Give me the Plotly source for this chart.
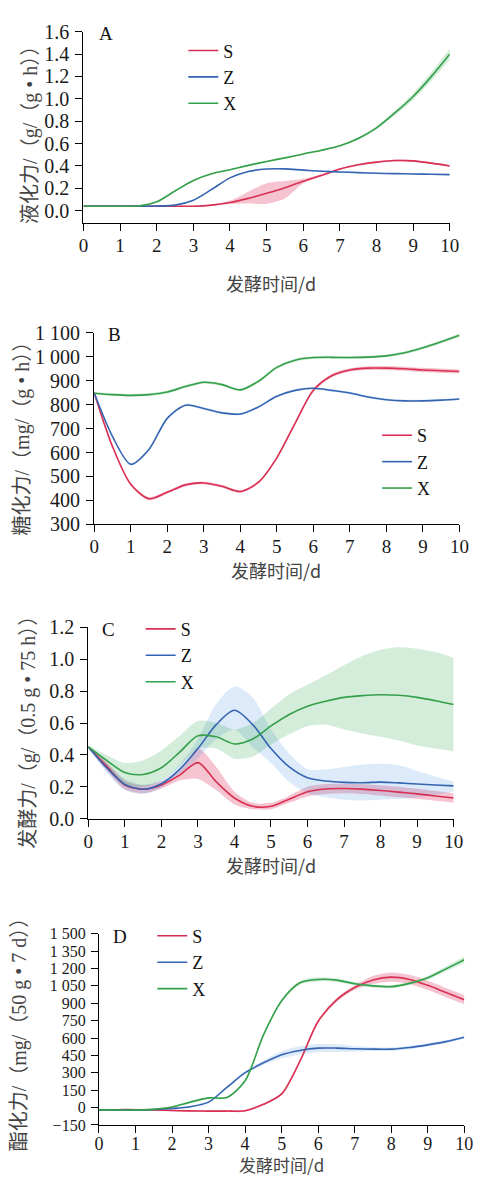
import plotly.graph_objects as go

# Fermentation time (days) shared by every panel
days = [0, 0.5, 1, 1.5, 2, 2.5, 3, 3.5, 4, 4.5, 5, 5.5, 6, 6.5, 7, 7.5, 8, 8.5, 9, 9.5, 10]

# A: liquefying power, g/(g·h)
A_S = [0.04, 0.04, 0.04, 0.04, 0.04, 0.04, 0.04, 0.05, 0.073, 0.11, 0.155, 0.205, 0.264, 0.316, 0.372, 0.41, 0.434, 0.448, 0.445, 0.425, 0.40]
A_S_lo = [0.035, 0.035, 0.035, 0.035, 0.035, 0.035, 0.035, 0.045, 0.06, 0.065, 0.062, 0.11, 0.245, 0.305, 0.364, 0.402, 0.426, 0.44, 0.437, 0.417, 0.392]
A_S_hi = [0.045, 0.045, 0.045, 0.045, 0.045, 0.045, 0.045, 0.055, 0.09, 0.17, 0.245, 0.265, 0.285, 0.326, 0.38, 0.418, 0.442, 0.456, 0.453, 0.433, 0.408]
A_Z = [0.04, 0.04, 0.04, 0.04, 0.042, 0.05, 0.094, 0.19, 0.293, 0.35, 0.372, 0.374, 0.362, 0.353, 0.346, 0.34, 0.334, 0.331, 0.328, 0.325, 0.322]
A_Z_lo = [0.036, 0.036, 0.036, 0.036, 0.038, 0.046, 0.09, 0.185, 0.288, 0.344, 0.366, 0.368, 0.356, 0.347, 0.34, 0.334, 0.328, 0.325, 0.322, 0.319, 0.316]
A_Z_hi = [0.044, 0.044, 0.044, 0.044, 0.046, 0.054, 0.098, 0.195, 0.298, 0.356, 0.378, 0.38, 0.368, 0.359, 0.352, 0.346, 0.34, 0.337, 0.334, 0.331, 0.328]
A_X = [0.04, 0.04, 0.04, 0.042, 0.079, 0.176, 0.27, 0.33, 0.366, 0.405, 0.44, 0.472, 0.507, 0.54, 0.58, 0.645, 0.74, 0.873, 1.02, 1.2, 1.40]
A_X_lo = [0.036, 0.036, 0.036, 0.038, 0.074, 0.17, 0.264, 0.324, 0.36, 0.399, 0.434, 0.466, 0.5, 0.532, 0.571, 0.633, 0.725, 0.852, 0.99, 1.16, 1.35]
A_X_hi = [0.044, 0.044, 0.044, 0.046, 0.084, 0.182, 0.276, 0.336, 0.372, 0.411, 0.446, 0.478, 0.514, 0.548, 0.589, 0.657, 0.755, 0.894, 1.05, 1.24, 1.45]

# B: saccharifying power, mg/(g·h)
B_S = [850, 626, 468, 407, 434, 465, 473, 459, 437, 476, 578, 722, 860, 921, 945, 953, 953, 950, 945, 942, 939]
B_S_lo = [846, 620, 462, 400, 428, 459, 467, 453, 431, 470, 572, 716, 853, 914, 938, 945, 944, 941, 936, 933, 931]
B_S_hi = [854, 632, 474, 414, 440, 471, 479, 465, 443, 482, 584, 728, 867, 928, 952, 961, 962, 959, 954, 951, 947]
B_Z = [850, 668, 551, 613, 743, 798, 784, 766, 761, 791, 835, 860, 869, 860, 849, 832, 821, 816, 816, 819, 824]
B_Z_lo = [846, 663, 546, 608, 738, 793, 779, 761, 756, 786, 830, 855, 864, 855, 844, 827, 816, 811, 811, 814, 819]
B_Z_hi = [854, 673, 556, 618, 748, 803, 789, 771, 766, 796, 840, 865, 874, 865, 854, 837, 826, 821, 821, 824, 829]
B_X = [848, 842, 839, 842, 853, 876, 894, 884, 862, 898, 956, 986, 997, 998, 997, 999, 1004, 1017, 1038, 1063, 1090]
B_X_lo = [843, 836, 833, 836, 847, 870, 888, 878, 856, 892, 950, 980, 991, 992, 991, 993, 998, 1011, 1032, 1056, 1082]
B_X_hi = [853, 848, 845, 848, 859, 882, 900, 890, 868, 904, 962, 992, 1003, 1004, 1003, 1005, 1010, 1023, 1044, 1070, 1098]

# C: fermenting power, g/(0.5 g·75 h)
C_S = [0.45, 0.33, 0.212, 0.185, 0.212, 0.274, 0.352, 0.232, 0.13, 0.078, 0.078, 0.123, 0.17, 0.187, 0.19, 0.186, 0.177, 0.167, 0.156, 0.143, 0.13]
C_S_lo = [0.44, 0.305, 0.185, 0.16, 0.19, 0.24, 0.25, 0.18, 0.09, 0.06, 0.06, 0.1, 0.14, 0.155, 0.16, 0.155, 0.145, 0.135, 0.125, 0.113, 0.1]
C_S_hi = [0.46, 0.355, 0.24, 0.21, 0.235, 0.3, 0.44, 0.325, 0.17, 0.1, 0.1, 0.145, 0.2, 0.218, 0.22, 0.217, 0.21, 0.2, 0.188, 0.174, 0.16]
C_Z = [0.45, 0.32, 0.215, 0.185, 0.22, 0.31, 0.44, 0.59, 0.68, 0.59, 0.44, 0.325, 0.257, 0.237, 0.228, 0.226, 0.23, 0.225, 0.218, 0.212, 0.206]
C_Z_lo = [0.44, 0.29, 0.18, 0.155, 0.195, 0.28, 0.38, 0.5, 0.56, 0.45, 0.35, 0.23, 0.16, 0.135, 0.12, 0.115, 0.12, 0.125, 0.135, 0.15, 0.17]
C_Z_hi = [0.46, 0.35, 0.25, 0.215, 0.245, 0.34, 0.5, 0.72, 0.83, 0.76, 0.56, 0.41, 0.31, 0.31, 0.325, 0.34, 0.345, 0.335, 0.3, 0.265, 0.232]
C_X = [0.45, 0.366, 0.29, 0.278, 0.32, 0.418, 0.52, 0.514, 0.469, 0.5, 0.582, 0.654, 0.706, 0.737, 0.761, 0.772, 0.778, 0.774, 0.761, 0.74, 0.716]
C_X_lo = [0.44, 0.32, 0.22, 0.2, 0.243, 0.33, 0.438, 0.44, 0.377, 0.39, 0.465, 0.53, 0.58, 0.59, 0.56, 0.535, 0.514, 0.49, 0.459, 0.44, 0.424]
C_X_hi = [0.46, 0.4, 0.35, 0.366, 0.428, 0.52, 0.613, 0.6, 0.56, 0.6, 0.69, 0.78, 0.84, 0.9, 0.963, 1.02, 1.06, 1.076, 1.066, 1.045, 1.008]

# D: esterifying power, mg/(50 g·7 d)
D_S = [-20, -18, -18, -20, -25, -28, -30, -30, -27, 28, 118, 400, 744, 927, 1035, 1100, 1125, 1105, 1054, 992, 930]
D_S_lo = [-28, -26, -26, -28, -33, -36, -38, -38, -35, 20, 108, 388, 730, 910, 1015, 1065, 1085, 1065, 1014, 952, 890]
D_S_hi = [-12, -10, -10, -12, -17, -20, -22, -22, -19, 36, 128, 412, 758, 944, 1055, 1135, 1165, 1145, 1094, 1032, 970]
D_Z = [-20, -20, -20, -17, -8, 8, 47, 174, 301, 386, 456, 493, 513, 513, 507, 504, 504, 518, 541, 569, 606]
D_Z_lo = [-27, -27, -27, -24, -15, 0, 39, 165, 290, 366, 426, 458, 478, 480, 482, 487, 489, 503, 527, 556, 596]
D_Z_hi = [-13, -13, -13, -10, -1, 16, 55, 183, 312, 406, 486, 528, 548, 546, 532, 521, 519, 533, 555, 582, 616]
D_X = [-20, -20, -20, -15, 5, 47, 84, 87, 231, 625, 921, 1076, 1105, 1099, 1068, 1049, 1043, 1071, 1119, 1196, 1275]
D_X_lo = [-27, -27, -27, -22, -3, 39, 76, 79, 221, 613, 908, 1060, 1087, 1083, 1054, 1036, 1030, 1057, 1103, 1176, 1245]
D_X_hi = [-13, -13, -13, -8, 13, 55, 92, 95, 241, 637, 934, 1092, 1123, 1115, 1082, 1062, 1056, 1085, 1135, 1216, 1305]

# Tick values and labels
A_ytick = [0, 0.2, 0.4, 0.6, 0.8, 1.0, 1.2, 1.4, 1.6]
A_ylabel = ["0.0", "0.2", "0.4", "0.6", "0.8", "1.0", "1.2", "1.4", "1.6"]
B_ytick = [300, 400, 500, 600, 700, 800, 900, 1000, 1100]
B_ylabel = ["300", "400", "500", "600", "700", "800", "900", "1 000", "1 100"]
C_ytick = [0, 0.2, 0.4, 0.6, 0.8, 1.0, 1.2]
C_ylabel = ["0.0", "0.2", "0.4", "0.6", "0.8", "1.0", "1.2"]
D_ytick = [-150, 0, 150, 300, 450, 600, 750, 900, 1050, 1200, 1350, 1500]
D_ylabel = ["\u2212150", "0", "150", "300", "450", "600", "750", "900", "1 050", "1 200", "1 350", "1 500"]
x_tick = list(range(0, 11))

series_names = ["S", "Z", "X"]
line_colors = {"S": "#d92f52", "Z": "#3565b2", "X": "#34a04a"}
band_colors = {"S": "rgba(222,60,100,0.30)", "Z": "rgba(60,140,220,0.18)", "X": "rgba(40,160,70,0.20)"}

panels = [
    dict(tag="A", data={"S": (A_S, A_S_lo, A_S_hi), "Z": (A_Z, A_Z_lo, A_Z_hi), "X": (A_X, A_X_lo, A_X_hi)},
         yrange=[-0.11, 1.6], ytick=A_ytick, ylabel=A_ylabel, ytick_size=20,
         xdom=[81, 459], ydom=[21, 216], xstand=-2, xtick_size=19,
         ytitle="液化力/（g/（g • h））", ytitle_pos=(27, 121), xtitle_y=277, xtitle_x=274, xtitle_size=18,
         letter_pos=(104, 23), legend_pos=(184, 21.7)),
    dict(tag="B", data={"S": (B_S, B_S_lo, B_S_hi), "Z": (B_Z, B_Z_lo, B_Z_hi), "X": (B_X, B_X_lo, B_X_hi)},
         yrange=[300, 1100], ytick=B_ytick, ylabel=B_ylabel, ytick_size=20,
         xdom=[92, 469], ydom=[328, 523], xstand=-2, xtick_size=19,
         ytitle="糖化力/（mg/（g • h））", ytitle_pos=(18, 430), xtitle_y=570, xtitle_x=280, xtitle_size=18,
         letter_pos=(113, 330), legend_pos=(384, 413.7)),
    dict(tag="C", data={"S": (C_S, C_S_lo, C_S_hi), "Z": (C_Z, C_Z_lo, C_Z_hi), "X": (C_X, C_X_lo, C_X_hi)},
         yrange=[0, 1.2], ytick=C_ytick, ylabel=C_ylabel, ytick_size=20,
         xdom=[86, 463], ydom=[628, 823], xstand=-2, xtick_size=19,
         ytitle="发酵力/（g/（0.5 g • 75 h））", ytitle_pos=(24, 730), xtitle_y=870, xtitle_x=274, xtitle_size=18,
         letter_pos=(107, 630), legend_pos=(140, 611)),
    dict(tag="D", data={"S": (D_S, D_S_lo, D_S_hi), "Z": (D_Z, D_Z_lo, D_Z_hi), "X": (D_X, D_X_lo, D_X_hi)},
         yrange=[-150, 1500], ytick=D_ytick, ylabel=D_ylabel, ytick_size=16,
         xdom=[97, 474], ydom=[940, 1135], xstand=-5, xtick_size=18,
         ytitle="酯化力/（mg/（50 g • 7 d））", ytitle_pos=(15, 1038), xtitle_y=None, xtitle_x=285, xtitle_size=17,
         letter_pos=(119, 943), legend_pos=(152, 923.7)),
]

W, H = 484, 1189
SERIF = "Liberation Serif, Noto Sans CJK SC"
CJK = "Noto Sans CJK SC, Liberation Sans"

fig = go.Figure()
layout = dict(width=W, height=H, margin=dict(l=0, r=0, t=0, b=0),
              font=dict(family=SERIF, color="#1a1a1a"),
              paper_bgcolor="white", plot_bgcolor="white", showlegend=True)
annotations = []

for i, p in enumerate(panels, start=1):
    sx = "" if i == 1 else str(i)
    xref, yref = "x" + sx, "y" + sx
    legend_id = "legend" + sx

    # confidence bands first, then the mean curves on top
    for name in series_names:
        mean, lo, hi = p["data"][name]
        fig.add_trace(go.Scatter(x=days, y=lo, mode="lines", line=dict(width=0, shape="spline", smoothing=0.8),
                                 xaxis=xref, yaxis=yref, showlegend=False, hoverinfo="skip"))
        fig.add_trace(go.Scatter(x=days, y=hi, mode="lines", line=dict(width=0, shape="spline", smoothing=0.8),
                                 fill="tonexty", fillcolor=band_colors[name],
                                 xaxis=xref, yaxis=yref, showlegend=False, hoverinfo="skip"))
    for name in series_names:
        mean, lo, hi = p["data"][name]
        fig.add_trace(go.Scatter(x=days, y=mean, mode="lines", name=name,
                                 line=dict(color=line_colors[name], width=1.6, shape="spline", smoothing=0.8),
                                 xaxis=xref, yaxis=yref, legend=legend_id))

    x0, x1 = p["xdom"]
    y0, y1 = p["ydom"]
    axis_common = dict(showgrid=False, zeroline=False, showline=True, linecolor="black", linewidth=1.3,
                       ticks="outside", ticklen=7, tickwidth=1.3, tickcolor="black")
    layout["xaxis" + sx] = dict(axis_common, domain=[x0 / W, x1 / W], anchor=yref, range=[0, 10],
                                tickmode="array", tickvals=x_tick, ticktext=[str(v) for v in x_tick],
                                tickfont=dict(family="Liberation Serif", size=p["xtick_size"], color="#1a1a1a"),
                                ticklabelstandoff=p["xstand"])
    layout["yaxis" + sx] = dict(axis_common, domain=[1 - y1 / H, 1 - y0 / H], anchor=xref, range=p["yrange"],
                                tickmode="array", tickvals=p["ytick"], ticktext=p["ylabel"], ticklabelstandoff=2,
                                tickfont=dict(family="Liberation Serif", size=p["ytick_size"], color="#1a1a1a"))

    lx, ly = p["legend_pos"]
    layout[legend_id] = dict(x=lx / W, y=1 - ly / H, xanchor="left", yanchor="top",
                             bgcolor="rgba(0,0,0,0)", borderwidth=0, traceorder="normal",
                             font=dict(family="Liberation Serif", size=18, color="#111"), tracegroupgap=0)

    tx, ty = p["ytitle_pos"]
    annotations.append(dict(text=p["ytitle"], x=tx / W, y=1 - ty / H, xref="paper", yref="paper",
                            showarrow=False, textangle=-90, xanchor="center", yanchor="middle",
                            font=dict(family=SERIF, size=20, color="#444")))
    title_font = dict(family=CJK, size=p["xtitle_size"], color="#444")
    if p["xtitle_y"] is None:
        annotations.append(dict(text="发酵时间/d", x=p["xtitle_x"] / W, y=0, xref="paper", yref="paper",
                                showarrow=False, xanchor="center", yanchor="bottom", borderpad=0,
                                font=title_font))
    else:
        annotations.append(dict(text="发酵时间/d", x=p["xtitle_x"] / W, y=1 - p["xtitle_y"] / H,
                                xref="paper", yref="paper", showarrow=False, xanchor="center", yanchor="middle",
                                borderpad=0, font=title_font))
    cx, cy = p["letter_pos"]
    annotations.append(dict(text=p["tag"], x=cx / W, y=1 - cy / H, xref="paper", yref="paper",
                            showarrow=False, xanchor="center", yanchor="middle",
                            font=dict(family="Liberation Serif", size=19, color="#111")))

layout["annotations"] = annotations
fig.update_layout(**layout)
fig.write_html("out.html")
